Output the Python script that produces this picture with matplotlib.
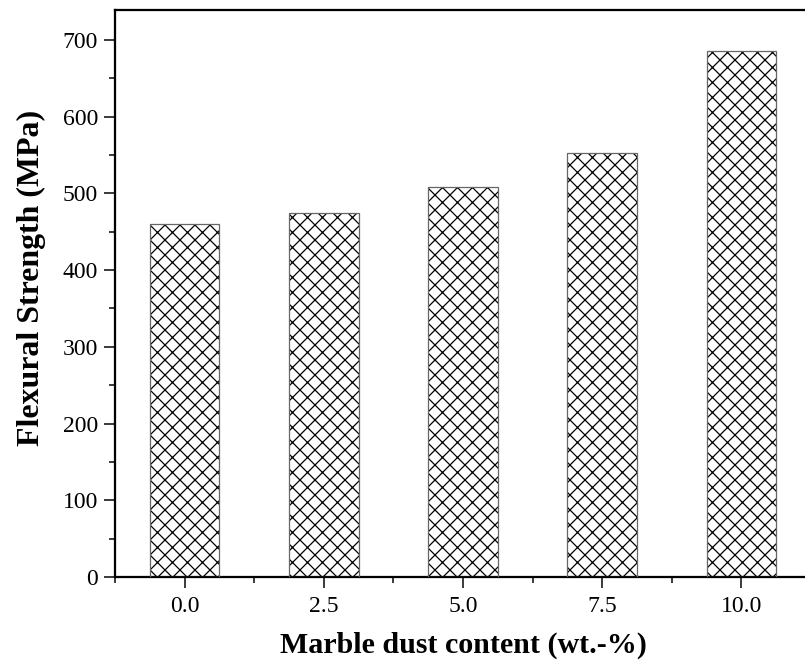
import matplotlib
matplotlib.use('Agg')
import matplotlib.pyplot as plt
from matplotlib.ticker import MultipleLocator

# contenido de polvo de marmol y resistencia a flexion
contenido = [0.0, 2.5, 5.0, 7.5, 10.0]
resistencia = [460, 475, 508, 553, 685]
etiquetas = ['0.0', '2.5', '5.0', '7.5', '10.0']

plt.rcParams['font.family'] = ['Liberation Serif', 'DejaVu Serif']
plt.rcParams['hatch.linewidth'] = 1.0

fig = plt.figure(figsize=(805 / 90, 667 / 90), dpi=90)
ax = fig.add_axes([115 / 805, 90 / 667, 696 / 805, 567 / 667])

# barras con trama cruzada y contorno gris
ax.bar(contenido, resistencia, width=1.25, color='white', edgecolor='black',
       hatch='xx', linewidth=0, zorder=2)
ax.bar(contenido, resistencia, width=1.25, fill=False, edgecolor='#666666',
       linewidth=1.0, zorder=3)

ax.set_xlim(-1.25, 11.25)
ax.set_ylim(0, 739)
ax.set_xticks(contenido)
ax.set_xticklabels(etiquetas)
ax.xaxis.set_minor_locator(MultipleLocator(1.25))
ax.yaxis.set_major_locator(MultipleLocator(100))
ax.yaxis.set_minor_locator(MultipleLocator(50))

for s in ax.spines.values():
    s.set_linewidth(1.8)

ax.tick_params(which='major', direction='out', length=8.5, width=1.2,
               labelsize=19, pad=5)
ax.tick_params(axis='x', which='major', pad=6.5)
ax.tick_params(which='minor', direction='out', length=4.5, width=1.2)
ax.tick_params(top=False, right=False)

ax.set_xlabel('Marble dust content (wt.-%)', fontsize=24, fontweight='bold',
              labelpad=12)
ax.set_ylabel('Flexural Strength (MPa)', fontsize=25.5, fontweight='bold',
              labelpad=13)
ax.yaxis.label.set_y(0.527)

fig.savefig('out.png', dpi=90)
